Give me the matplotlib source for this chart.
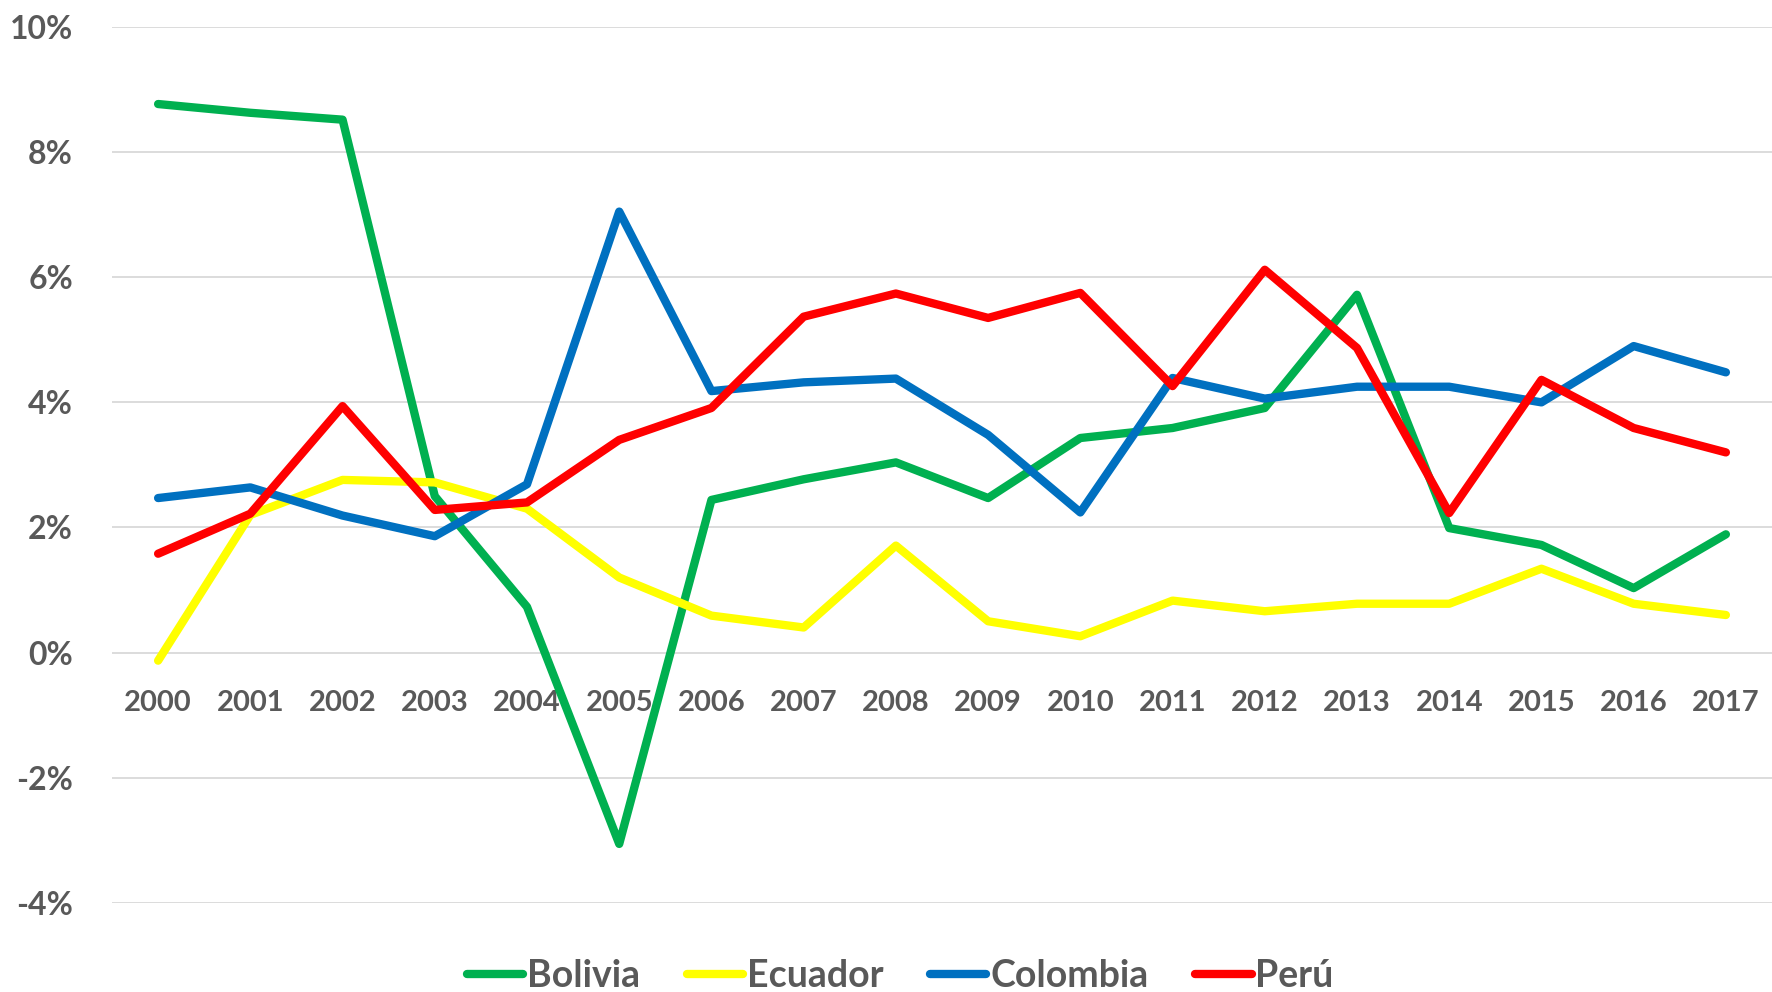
import matplotlib
matplotlib.use("Agg")
import matplotlib.pyplot as plt
from matplotlib.lines import Line2D

years = [str(y) for y in range(2000, 2018)]
bolivia = [8.77, 8.63, 8.52, 2.50, 0.73, -3.06, 2.44, 2.77, 3.04, 2.47, 3.43, 3.59, 3.91, 5.72, 1.99, 1.72, 1.03, 1.89]
ecuador = [-0.13, 2.20, 2.76, 2.72, 2.30, 1.20, 0.59, 0.40, 1.71, 0.50, 0.26, 0.83, 0.66, 0.78, 0.78, 1.34, 0.78, 0.60]
colombia = [2.47, 2.64, 2.19, 1.86, 2.69, 7.05, 4.18, 4.32, 4.38, 3.48, 2.24, 4.39, 4.06, 4.25, 4.25, 4.00, 4.90, 4.48]
peru = [1.58, 2.22, 3.94, 2.28, 2.40, 3.40, 3.91, 5.37, 5.74, 5.35, 5.75, 4.26, 6.12, 4.87, 2.23, 4.36, 3.59, 3.20]
series_names = ["Bolivia", "Ecuador", "Colombia", "Perú"]
colors = ["#00B050", "#FFFF00", "#0070C0", "#FF0000"]
y_ticks = [-4, -2, 0, 2, 4, 6, 8, 10]
y_labels = ["-4%", "-2%", "0%", "2%", "4%", "6%", "8%", "10%"]

plt.rcParams['font.family'] = ['Lato', 'DejaVu Sans']
txt_color = "#595959"

fig = plt.figure(figsize=(17.72, 9.92), dpi=100)
ax = fig.add_axes([112/1772, 1 - 902.7/992, 1 - 112/1772, (902.7 - 27.1)/992])

x = list(range(len(years)))
for name, vals, c in zip(series_names, [bolivia, ecuador, colombia, peru], colors):
    ax.plot(x, vals, color=c, lw=6, solid_capstyle='round', solid_joinstyle='round', label=name, zorder=3)

ax.set_xlim(-0.5, len(years) - 0.5)
ax.set_ylim(-4, 10)
ax.set_yticks(y_ticks)
ax.set_yticklabels(y_labels)
ax.yaxis.grid(True, color="#D9D9D9", lw=1.3, zorder=0)
ax.set_axisbelow(True)
for s in ax.spines.values():
    s.set_visible(False)
ax.spines['bottom'].set_position(('data', 0))
ax.set_xticks(x)
ax.set_xticklabels(years)
ax.tick_params(axis='y', length=0, pad=28, labelsize=23, labelcolor=txt_color)
ax.tick_params(axis='x', length=0, pad=27, labelsize=21, labelcolor=txt_color)
for lab in ax.get_xticklabels() + ax.get_yticklabels():
    lab.set_fontweight('bold')

handles = [Line2D([0], [0], color=c, lw=6, solid_capstyle='round') for c in colors]
leg = fig.legend(handles, series_names, loc='center', bbox_to_anchor=(0.508, 1 - 976/992), ncol=4,
                 frameon=False, handlelength=1.5, handletextpad=0.1, columnspacing=1.25,
                 prop={'size': 27, 'weight': 'bold'})
for t in leg.get_texts():
    t.set_color(txt_color)

fig.savefig("out.png", dpi=100)
